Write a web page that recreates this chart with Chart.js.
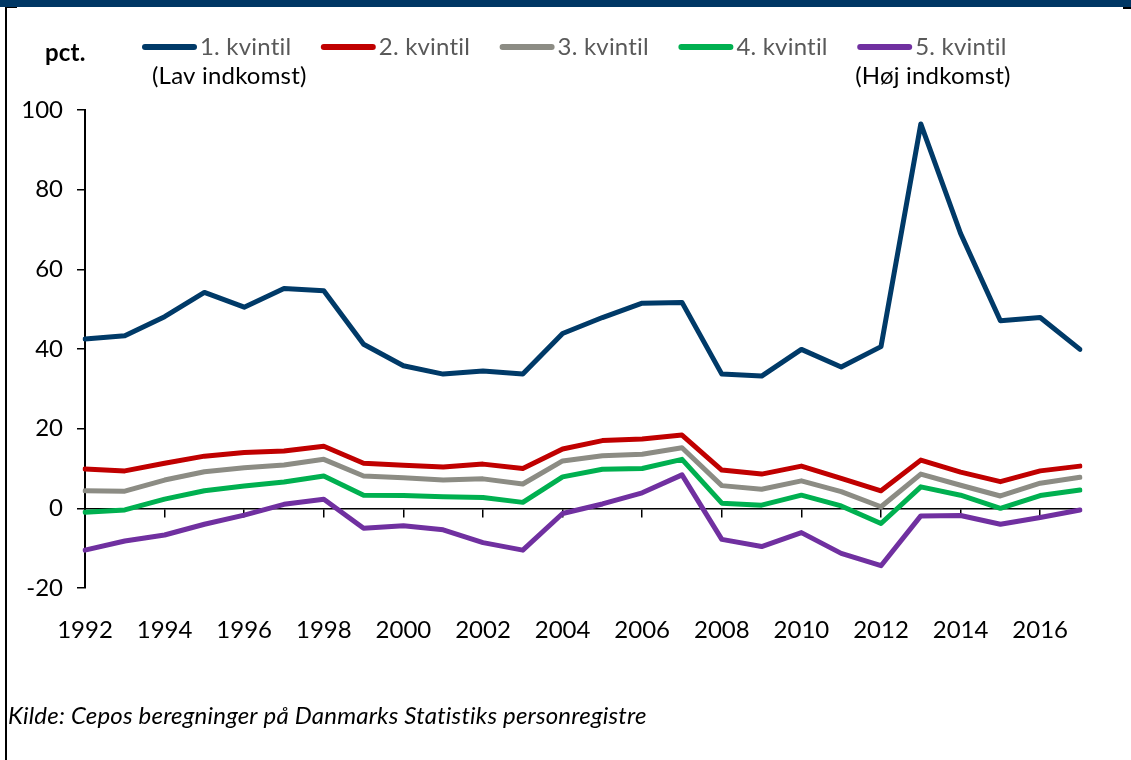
<!DOCTYPE html>
<html><head><meta charset="utf-8">
<script src="https://cdn.jsdelivr.net/npm/chart.js@4"></script>
<style>html,body{margin:0;padding:0;background:#fff;}canvas{display:block}</style>
</head><body>
<canvas id="c" width="1131" height="760"></canvas>
<script>
const years = ['1992','1993','1994','1995','1996','1997','1998','1999','2000','2001','2002','2003','2004','2005','2006','2007','2008','2009','2010','2011','2012','2013','2014','2015','2016','2017'];
const kvintil1 = [42.5,43.3,48.1,54.2,50.5,55.2,54.6,41.2,35.8,33.7,34.5,33.7,43.9,47.9,51.5,51.7,33.7,33.2,39.9,35.5,40.6,96.5,69.0,47.1,47.9,39.9];
const kvintil2 = [9.9,9.4,11.3,13.1,14.0,14.4,15.6,11.3,10.8,10.4,11.1,10.0,14.9,17.0,17.4,18.4,9.6,8.6,10.6,7.5,4.4,12.1,9.1,6.7,9.4,10.6];
const kvintil3 = [4.4,4.3,7.1,9.2,10.2,10.9,12.3,8.1,7.7,7.1,7.4,6.1,11.9,13.2,13.6,15.2,5.7,4.8,6.9,4.2,0.4,8.6,5.8,3.1,6.3,7.8];
const kvintil4 = [-1.0,-0.4,2.3,4.4,5.6,6.6,8.1,3.3,3.2,2.9,2.7,1.5,7.9,9.8,10.0,12.3,1.3,0.8,3.3,0.6,-3.8,5.4,3.3,0.0,3.2,4.6];
const kvintil5 = [-10.5,-8.2,-6.7,-4.0,-1.7,1.0,2.3,-5.0,-4.4,-5.4,-8.6,-10.5,-1.3,1.1,3.9,8.4,-7.8,-9.6,-6.1,-11.3,-14.4,-1.9,-1.8,-4.0,-2.3,-0.4];
const seriesNames = ['1. kvintil','2. kvintil','3. kvintil','4. kvintil','5. kvintil'];
const subLabels = ['(Lav indkomst)','','','','(Høj indkomst)'];
const yMin = -20, yMax = 100, yStep = 20;
const unitLabel = 'pct.';
const sourceText = 'Kilde: Cepos beregninger på Danmarks Statistiks personregistre';

const colors = ['#003A68','#C00000','#8C8C84','#00B050','#7030A0'];
const values = [kvintil1,kvintil2,kvintil3,kvintil4,kvintil5];
const FONT = 'Lato, "Noto Sans", sans-serif';

const decor = {
  id:'decor',
  beforeDraw(chart){
    const c = chart.ctx;
    c.save();
    c.fillStyle = '#fff';
    c.fillRect(0,0,chart.width,chart.height);
    c.fillStyle = '#003764';
    c.fillRect(0,0,chart.width,7);
    c.fillStyle = '#000';
    c.fillRect(5,7,2,chart.height-7);
    c.fillRect(7,7,10,1);
    c.fillRect(1123,7,8,2);
    c.restore();
  },
  afterDraw(chart){
    const c = chart.ctx;
    c.save();
    c.textBaseline = 'middle';
    try { c.letterSpacing = '0.2px'; } catch(e) {}
    c.fillStyle = '#000';
    c.font = 'bold 24px ' + FONT;
    c.fillText(unitLabel, 45, 53);
    const step = 178.8;
    const subOffsets = [10,0,0,0,-2];
    chart.data.datasets.forEach((ds,i)=>{
      const x0 = 142 + i*step;
      c.strokeStyle = ds.borderColor;
      c.lineWidth = 6;
      c.lineCap = 'round';
      c.beginPath(); c.moveTo(x0+3,47); c.lineTo(x0+52,47); c.stroke();
      c.font = '24px ' + FONT;
      c.fillStyle = '#595959';
      c.fillText(ds.label, x0+58, 47);
      if (subLabels[i]) {
        c.fillStyle = '#000';
        c.fillText(subLabels[i], x0+subOffsets[i], 76);
      }
    });
    c.font = 'italic 24px ' + FONT;
    c.fillStyle = '#000';
    c.fillText(sourceText, 8, 716);
    c.restore();
  }
};

new Chart(document.getElementById('c'), {
  type:'line',
  data:{
    labels: years,
    datasets: values.map((v,i)=>({
      label: seriesNames[i],
      data: v,
      borderColor: colors[i],
      backgroundColor: colors[i],
      borderWidth: 5,
      pointRadius: 0,
      tension: 0,
      borderJoinStyle:'round',
      borderCapStyle:'round',
      fill:false
    }))
  },
  options:{
    responsive:false,
    animation:false,
    devicePixelRatio:1,
    layout:{padding:{top:110,right:51,left:0,bottom:0}},
    plugins:{legend:{display:false},tooltip:{enabled:false}},
    scales:{
      x:{
        type:'category',
        position:'bottom',
        offset:false,
        grid:{display:false,drawTicks:false},
        border:{display:false},
        ticks:{
          autoSkip:false,maxRotation:0,padding:28,
          color:'#000',font:{family:FONT,size:24},
          callback:function(v,i){return i%2===0?this.getLabelForValue(v):'';}
        },
        afterFit(s){s.height=172;}
      },
      x2:{
        type:'category',
        position:{y:0},
        offset:false,
        grid:{display:true,drawOnChartArea:false,drawTicks:true,tickLength:8,lineWidth:1.5,
          color:(ctx)=> (ctx.index%2===0 && ctx.index>0) ? '#000' : 'rgba(0,0,0,0)'},
        border:{display:true,color:'#000',width:1.5},
        ticks:{display:false,autoSkip:false}
      },
      y:{
        min:yMin,max:yMax,
        ticks:{stepSize:yStep,padding:14,color:'#000',font:{family:FONT,size:24}},
        grid:{drawOnChartArea:false,drawTicks:true,tickLength:8,color:'#000',lineWidth:1.5},
        border:{display:true,color:'#000',width:2},
        afterFit(s){s.width=85;}
      }
    }
  },
  plugins:[decor]
});
</script>
</body></html>
